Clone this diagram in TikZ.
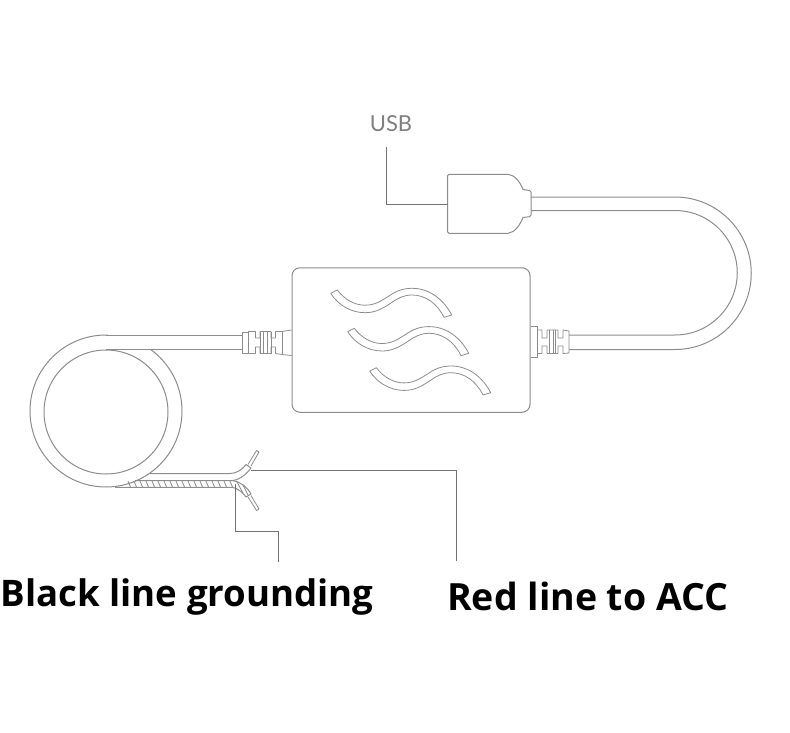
\documentclass[tikz,border=0pt]{standalone}
\usepackage{fontspec}
\setmainfont{Open Sans}
\newfontfamily\usbfont{Lato}
\begin{document}
\begin{tikzpicture}[x=1pt,y=-1pt,
  outline/.style={draw=black!45,line width=1pt,line join=round},
  thin outline/.style={draw=black!45,line width=0.8pt,line join=round},
  leader/.style={draw=black!55,line width=0.9pt},
  caption/.style={text=black,inner sep=0pt,anchor=base west}]
\useasboundingbox (0,0) rectangle (790,733);

% Controller housing
\node[outline,rounded corners=8pt,minimum width=238pt,minimum height=144.5pt,inner sep=0pt] (box) at (411,340) {};

% Coil of cable: the outer turn is opened where the cable leaves it
\node[outline,circle,minimum size=152pt,inner sep=0pt] (outercoil) at (106,411) {};
\node[outline,circle,minimum size=124pt,inner sep=0pt] (innercoil) at (106,412) {};
\fill[white] (108,334) rectangle (150.5,349);

% Cable to the left connector
\coordinate (lefttop) at (242,335);
\coordinate (leftbot) at (242,349.5);
\draw[outline] (106,335) -- (lefttop);
\draw[outline] (106,349.5) -- (leftbot);

% Left strain relief
\draw[thin outline] (242,332) rectangle (248,353);
\draw[thin outline] (248,331.5) -- (255.5,331.5) -- (255.5,338) -- (260,338) -- (260,331.5)
  -- (271,331.5) -- (271,338) -- (275.5,338) -- (275.5,331.5) -- (282,331.5) -- (box.west |- 0,330);
\draw[thin outline] (248,353.5) -- (255.5,353.5) -- (255.5,347) -- (260,347) -- (260,353.5)
  -- (271,353.5) -- (271,347) -- (275.5,347) -- (275.5,353.5) -- (282,354.5) -- (box.west |- 0,355.5);
\foreach \x in {248,260,263.5,267.5,271,282}
  \draw[thin outline] (\x,331.5) -- (\x,354);

% Right strain relief
\draw[thin outline] (box.east |- 0,326) -- (537,326) -- (537,357) -- (box.east |- 0,357);
\draw[thin outline] (537,330) -- (542,330) -- (542,338) -- (547,338) -- (547,330)
  -- (558,330) -- (558,338) -- (563,338) -- (563,330) -- (569,331) -- (569,353)
  -- (563,353.5) -- (563,346) -- (558,346) -- (558,353.5) -- (547,353.5) -- (547,346)
  -- (542,346) -- (542,353.5) -- (537,353.5);
\foreach \x in {549,553,555.5}
  \draw[thin outline] (\x,330) -- (\x,353.5);

% Cable loop up to the USB plug
\coordinate (righttop) at (569,335);
\coordinate (rightbot) at (569,349.5);
\coordinate (usbtop) at (531,197);
\coordinate (usbbot) at (531,210.5);
\draw[outline] (rightbot) -- (675,349.5) arc[start angle=90,end angle=-90,radius=76.25] -- (usbtop);
\draw[outline] (righttop) -- (675,335) arc[start angle=90,end angle=-90,radius=62.25] -- (usbbot);

% USB plug
\draw[outline] (449,174.3) -- (508,174.3) .. controls (515,175) and (520,182) .. (523,189.5)
  -- (529.5,190.5) -- (531,192) -- (531,215) -- (529.5,216.7) -- (523,217.5)
  .. controls (520,225) and (515,232.5) .. (508,233.3) -- (449,233.3) -- (447.7,232) -- (447.7,175.5) -- cycle;
\coordinate (usbleft) at (447.7,204);

% Wave emblem on the housing
\foreach \dx/\dy in {0/0,17/38.3,39/77.7}{
  \begin{scope}[shift={(\dx,\dy)}]
    \draw[thin outline] (330.7,293.3) -- (337.3,290)
      .. controls (345,300) and (355,305.2) .. (365,305.2)
      .. controls (376,305.2) and (382,300) .. (389,296)
      .. controls (396,291) and (403,288.3) .. (412,288.3)
      .. controls (430,288.3) and (444,300) .. (451.7,315) -- (444,317.3)
      .. controls (437,303) and (425,295) .. (412,295)
      .. controls (404,295) and (398,298) .. (391,303)
      .. controls (382,309) and (375,312.7) .. (365,312.7)
      .. controls (351,312.7) and (338,305) .. (330.7,293.3) -- cycle;
  \end{scope}
}

% Red wire, stripped end
\draw[outline] (150,473.5) -- (230,473.5) .. controls (236,473.5) and (242,470) .. (246,464.5) -- (251,468)
  .. controls (245,476) and (238,480.7) .. (230,480.7) -- (135,480.7);
\draw[thin outline] (248,464.5) -- (256.5,450.5) -- (259,452) -- (251,466);

% Black wire, twisted sheath and stripped end
\draw[outline] (115,487.3) -- (232,487.3) .. controls (238,488) and (243,493) .. (246,497) -- (251,494)
  .. controls (247,487) and (241,482) .. (233,480.7);
\foreach \x in {128,134,...,230}
  \draw[thin outline] (\x,481) -- (\x+2.5,487);
\draw[thin outline] (237,482) -- (243,493);
\draw[thin outline] (243,485) -- (248,495);
\draw[thin outline] (248,497) -- (256.5,510.5) -- (259,509) -- (251,495.5);

% Leaders to the captions
\coordinate (redtip) at (251,470);
\coordinate (redend) at (456.5,561);
\coordinate (blacktip) at (235.5,484);
\coordinate (blackend) at (278.5,562);
\coordinate (usbend) at (386.3,147);
\draw[leader] (redtip) -- (redend |- redtip) -- (redend);
\draw[leader] (blacktip) -- (blacktip |- 0,531) -- (blackend |- 0,531) -- (blackend);
\draw[leader] (usbend) -- (usbend |- usbleft) -- (usbleft);

% Labels
\node[font=\usbfont\fontsize{22}{24}\selectfont,text=black!50,inner sep=0pt] (usblabel) at (391,124) {USB};
\node[caption,font=\bfseries\fontsize{36.6}{40}\selectfont] (blacklabel) at (0.5,606) {Black line grounding};
\node[caption,font=\bfseries\fontsize{37.5}{40}\selectfont] (redlabel) at (447,610) {Red line to ACC};
\end{tikzpicture}
\end{document}
